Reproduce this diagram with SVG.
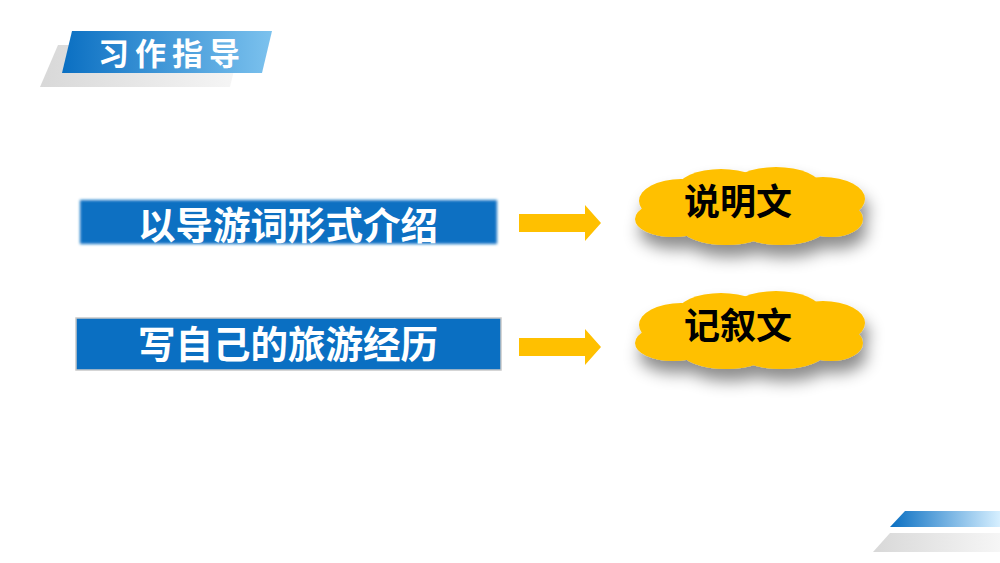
<svg xmlns="http://www.w3.org/2000/svg" width="1000" height="563" viewBox="0 0 1000 563">
<defs>
<linearGradient id="bl" x1="0" x2="1" y1="0" y2="0"><stop offset="0" stop-color="#0a6fc2"/><stop offset="1" stop-color="#7cc2ee"/></linearGradient>
<linearGradient id="bl2" x1="0" x2="1"><stop offset="0" stop-color="#0a6fc2"/><stop offset="1" stop-color="#d6efff"/></linearGradient>
<linearGradient id="gr" x1="0" x2="1"><stop offset="0" stop-color="#d8d8d8"/><stop offset="1" stop-color="#f6f6f6"/></linearGradient>
<filter id="sh" x="-20%" y="-30%" width="140%" height="180%"><feDropShadow dx="4" dy="12" stdDeviation="8" flood-color="#000" flood-opacity="0.45"/></filter>
<filter id="blur" x="-5%" y="-20%" width="110%" height="140%"><feGaussianBlur stdDeviation="1.5"/></filter>
<g id="cloud">
<ellipse cx="0" cy="0" rx="100" ry="26"/>
<ellipse cx="-70" cy="-6" rx="42" ry="22"/>
<ellipse cx="-30" cy="-18" rx="44" ry="20"/>
<ellipse cx="25" cy="-20" rx="45" ry="20"/>
<ellipse cx="72" cy="-8" rx="42" ry="22"/>
<ellipse cx="-78" cy="12" rx="38" ry="18"/>
<ellipse cx="-25" cy="20" rx="45" ry="18"/>
<ellipse cx="30" cy="20" rx="45" ry="18"/>
<ellipse cx="80" cy="12" rx="32" ry="18"/>
</g>
</defs>
<style>
.t{font-family:"Noto Sans CJK SC",sans-serif;font-weight:bold}
.arrow{fill:#ffc000}
.cl{fill:#ffc000}
</style>
<rect width="1000" height="563" fill="#fff"/>
<g id="header">
<polygon points="58,45 240,45 230,87 40,87" fill="url(#gr)"/>
<polygon points="72,31 272,31 262,73 62,73" fill="url(#bl)"/>
<text x="172" y="65" class="t" font-size="31" fill="#fff" text-anchor="middle" letter-spacing="6">习作指导</text>
</g>
<g id="box1">
<rect x="80" y="200" width="417" height="44" fill="#0a6fc2" filter="url(#blur)"/>
<text x="288" y="239" class="t" font-size="37.5" fill="#fff" text-anchor="middle">以导游词形式介绍</text>
</g>
<g id="box2">
<rect x="76" y="318" width="425" height="52" fill="#0a6fc2" stroke="#c8c8c8" stroke-width="1.5"/>
<text x="288" y="358" class="t" font-size="37.5" fill="#fff" text-anchor="middle">写自己的旅游经历</text>
</g>
<g id="connectors">
<polygon class="arrow" points="519,214 585,214 585,205 601,223 585,241 585,232 519,232"/>
<polygon class="arrow" points="519,338 585,338 585,329 601,347 585,365 585,356 519,356"/>
</g>
<g id="cloud1" class="cl" filter="url(#sh)"><use href="#cloud" transform="translate(751,207)"/></g>
<text x="738" y="215" class="t" font-size="36" fill="#000" text-anchor="middle">说明文</text>
<g id="cloud2" class="cl" filter="url(#sh)"><use href="#cloud" transform="translate(751,331)"/></g>
<text x="738" y="339" class="t" font-size="36" fill="#000" text-anchor="middle">记叙文</text>
<g id="deco">
<polygon points="905,511 1000,511 1000,527 890,527" fill="url(#bl2)"/>
<polygon points="890,533 1000,533 1000,552 873,552" fill="url(#gr)"/>
</g>
</svg>
